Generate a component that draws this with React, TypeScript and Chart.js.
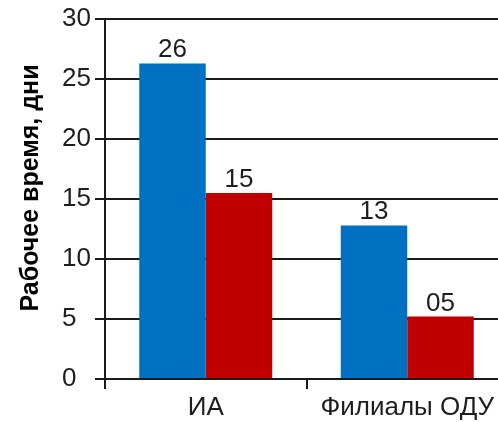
import React, { useEffect, useRef } from "react";
import { Chart, registerables } from "chart.js";

Chart.register(...registerables);

const categories = ["ИА", "Филиалы ОДУ"];
const blueValues = [26.3, 12.8];
const redValues = [15.5, 5.2];
const blueLabels = ["26", "13"];
const redLabels = ["15", "05"];
const yTitle = "Рабочее время, дни";

const FONT = "'Liberation Sans', Arial, sans-serif";
const TEXT = "#1e1e1e";
const LINE = "#1a1a1a";

const valueLabelPlugin = {
  id: "valueLabels",
  afterDatasetsDraw(chart: any) {
    const ctx = chart.ctx;
    ctx.save();
    ctx.font = `26px ${FONT}`;
    ctx.fillStyle = TEXT;
    ctx.textAlign = "center";
    ctx.textBaseline = "alphabetic";
    chart.data.datasets.forEach((ds: any, i: number) => {
      const meta = chart.getDatasetMeta(i);
      meta.data.forEach((el: any, j: number) => {
        ctx.fillText(ds.valueLabels[j], el.x, el.y - 6);
      });
    });
    ctx.restore();
  },
};

const yTitlePlugin = {
  id: "yTitleLeft",
  afterDraw(chart: any) {
    const ctx = chart.ctx;
    ctx.save();
    ctx.font = `bold 25px ${FONT}`;
    ctx.fillStyle = "#000";
    ctx.textAlign = "center";
    ctx.textBaseline = "middle";
    ctx.translate(31, 188);
    ctx.rotate(-Math.PI / 2);
    ctx.fillText(yTitle, 0, 0);
    ctx.restore();
  },
};

export default function App() {
  const ref = useRef<HTMLCanvasElement | null>(null);
  useEffect(() => {
    document.body.style.margin = "0";
    const chart = new Chart(ref.current as HTMLCanvasElement, {
      type: "bar",
      data: {
        labels: categories,
        datasets: [
          {
            data: blueValues,
            valueLabels: blueLabels,
            backgroundColor: "#0070C0",
            categoryPercentage: 0.66,
            barPercentage: 1,
          } as any,
          {
            data: redValues,
            valueLabels: redLabels,
            backgroundColor: "#C00000",
            categoryPercentage: 0.66,
            barPercentage: 1,
          } as any,
        ],
      },
      options: {
        animation: false,
        responsive: false,
        layout: { padding: { left: 62, top: 19, right: 2, bottom: 0 } },
        plugins: {
          legend: { display: false },
          tooltip: { enabled: false },
          title: { display: false },
        },
        scales: {
          x: {
            offset: true,
            grid: {
              offset: true,
              drawOnChartArea: false,
              drawTicks: true,
              tickLength: 10,
              color: LINE,
              lineWidth: 2,
            },
            border: { display: true, color: LINE, width: 2 },
            ticks: { font: { family: FONT, size: 26 }, color: TEXT, padding: 3 },
            afterFit: (s: any) => {
              s.height = 43;
            },
          },
          y: {
            min: 0,
            max: 30,
            ticks: {
              stepSize: 5,
              font: { family: FONT, size: 26 },
              color: TEXT,
              crossAlign: "far",
            },
            grid: { color: LINE, lineWidth: 2, tickLength: 10, drawTicks: true },
            border: { display: true, color: LINE, width: 2 },
            afterFit: (s: any) => {
              s.width = 43;
            },
          },
        },
      } as any,
      plugins: [valueLabelPlugin, yTitlePlugin],
    });
    return () => chart.destroy();
  }, []);
  return (
    <div style={{ width: 498, height: 422, overflow: "hidden", position: "relative", background: "#fff" }}>
      <canvas ref={ref} width={510} height={422} style={{ display: "block", width: 510, height: 422 }} />
    </div>
  );
}
